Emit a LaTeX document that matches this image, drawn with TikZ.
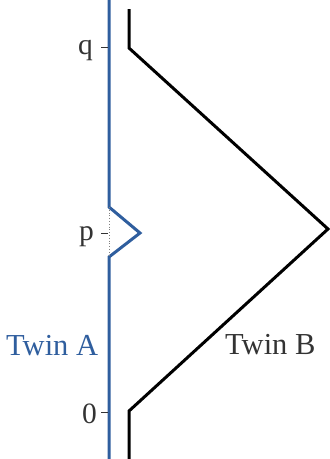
\documentclass[tikz,border=0pt]{standalone}
\usepackage{fontspec}
\setmainfont{Liberation Serif}
\definecolor{twinblue}{HTML}{2F5E9E}
\definecolor{labelgray}{HTML}{333333}
\begin{document}
\begin{tikzpicture}[x=1pt,y=-1pt,
  bluepath/.style={draw=twinblue,line width=3pt,line join=miter},
  blackpath/.style={draw=black,line width=3pt,line join=miter},
  ticklabel/.style={font=\fontsize{29.5}{29.5}\selectfont,text=labelgray,inner sep=0pt,anchor=base east},
  tickmark/.style={draw=labelgray,line width=0.9pt},
  twinlabel/.style={font=\fontsize{30.5}{30.5}\selectfont,inner sep=0pt,anchor=base west}]
\useasboundingbox (0,0) rectangle (330,459);
% Twin A
\coordinate (a0) at (109,0);
\coordinate (a1) at (109,207);
\coordinate (a2) at (140,233);
\coordinate (a3) at (109,257);
\coordinate (a4) at (109,459);
\draw[bluepath] (a0) -- (a1) -- (a2) -- (a3) -- (a4);
\draw[dotted,line width=0.8pt,draw=gray] (a1) -- (a3);
% Twin B
\coordinate (b0) at (129,9);
\coordinate (b1) at (129,48);
\coordinate (b2) at (328,229);
\coordinate (b3) at (129,411);
\coordinate (b4) at (129,459);
\draw[blackpath] (b0) -- (b1) -- (b2) -- (b3) -- (b4);
% ticks
\coordinate (tq) at (101,47);
\coordinate (tp) at (101,233);
\coordinate (t0) at (101,412);
\draw[tickmark] (tq) -- ++(7,0);
\draw[tickmark] (tp) -- ++(7,0);
\draw[tickmark] (t0) -- ++(7,0);
\node[ticklabel] (lq) at (93,54) {q};
\node[ticklabel] (lp) at (94,240) {p};
\node[ticklabel] (l0) at (97,423) {0};
% labels
\node[twinlabel,text=twinblue] (ta) at (6,355) {Twin A};
\node[twinlabel,text=labelgray] (tb) at (225,354) {Twin B};
\end{tikzpicture}
\end{document}
